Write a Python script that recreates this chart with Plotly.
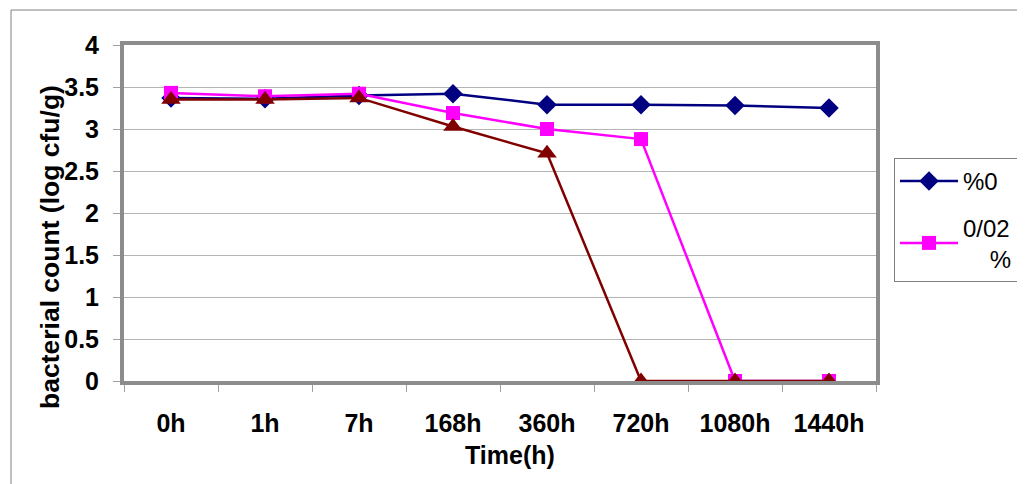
import plotly.graph_objects as go

categories = ["0h", "1h", "7h", "168h", "360h", "720h", "1080h", "1440h"]
series_0 = [3.37, 3.36, 3.40, 3.42, 3.29, 3.29, 3.28, 3.25]
series_002 = [3.43, 3.39, 3.42, 3.19, 3.00, 2.88, 0.0, 0.0]
series_004 = [3.35, 3.35, 3.37, 3.03, 2.71, 0.0, 0.0, 0.0]
y_ticks = [0, 0.5, 1, 1.5, 2, 2.5, 3, 3.5, 4]
y_tick_text = ["0", "0.5", "1", "1.5", "2", "2.5", "3", "3.5", "4"]

W, H = 1025, 484
OFF = 8  # page body margin offset
L, R, T, B = 124 - OFF, 876 - OFF, 45 - OFF, 381 - OFF
pw, ph = R - L, B - T

def px(x):
    return (x - OFF - L) / pw

def py(y):
    return (B - (y - OFF)) / ph

FONT = "Liberation Sans, Arial, sans-serif"

fig = go.Figure()
fig.add_trace(go.Scatter(
    x=categories, y=series_0, name="%0", mode="lines+markers", legendgroup="a",
    line=dict(color="#000080", width=2.5),
    marker=dict(symbol="diamond", size=15, color="#000080"),
))
fig.add_trace(go.Scatter(
    x=categories, y=series_002, name="0/02<br>\u00a0\u00a0\u00a0\u00a0%", mode="lines+markers",
    legendgroup="b",
    line=dict(color="#FF00FF", width=2.5),
    marker=dict(symbol="square", size=14, color="#FF00FF"),
))
fig.add_trace(go.Scatter(
    x=categories, y=series_004, name="0/04 %", mode="lines+markers", legendgroup="c",
    line=dict(color="#800000", width=2.5),
    marker=dict(symbol="triangle-up", size=17, color="#800000"),
    showlegend=False,
))

fig.update_layout(
    width=W, height=H,
    margin=dict(l=L, r=W - R, t=T, b=H - B, pad=0, autoexpand=False),
    paper_bgcolor="white", plot_bgcolor="white",
    font=dict(family=FONT, color="black"),
    showlegend=True,
    legend=dict(
        x=px(894), y=py(158), xanchor="left", yanchor="top",
        bordercolor="#808080", borderwidth=1, bgcolor="white",
        font=dict(family=FONT, size=24, color="black"),
        tracegroupgap=12, itemwidth=58,
    ),
    xaxis=dict(
        type="category", range=[-0.5, 7.5],
        showline=True, mirror=True, linecolor="#8c8c8c", linewidth=4,
        ticks="outside", tickson="boundaries", ticklen=7, tickcolor="#a0a0a0", tickwidth=1,
        showgrid=False, zeroline=False,
        tickfont=dict(family=FONT, size=25, color="black", weight="bold"),
        ticklabelstandoff=17,
    ),
    yaxis=dict(
        range=[0, 4], tickvals=y_ticks, ticktext=y_tick_text,
        showline=True, mirror=True, linecolor="#8c8c8c", linewidth=4,
        ticks="outside", ticklen=7, tickcolor="#a0a0a0", tickwidth=1,
        showgrid=True, gridcolor="#b4b4b4", gridwidth=1, zeroline=False,
        tickfont=dict(family=FONT, size=25, color="black", weight="bold"),
        ticklabelstandoff=9,
    ),
    annotations=[
        dict(text="bacterial count (log cfu/g)", textangle=-90,
             x=px(50), y=py(247), xref="paper", yref="paper",
             xanchor="center", yanchor="middle", showarrow=False,
             font=dict(family=FONT, size=26.5, color="black", weight="bold")),
        dict(text="Time(h)", x=px(510), y=py(455), xref="paper", yref="paper",
             xanchor="center", yanchor="middle", showarrow=False,
             font=dict(family=FONT, size=25, color="black", weight="bold")),
    ],
    shapes=[
        dict(type="rect", xref="paper", yref="paper",
             x0=px(11), x1=px(1040), y0=py(500), y1=py(10),
             line=dict(color="#808080", width=1), fillcolor="rgba(0,0,0,0)", layer="below"),
    ],
)

fig.write_html("out.html")
